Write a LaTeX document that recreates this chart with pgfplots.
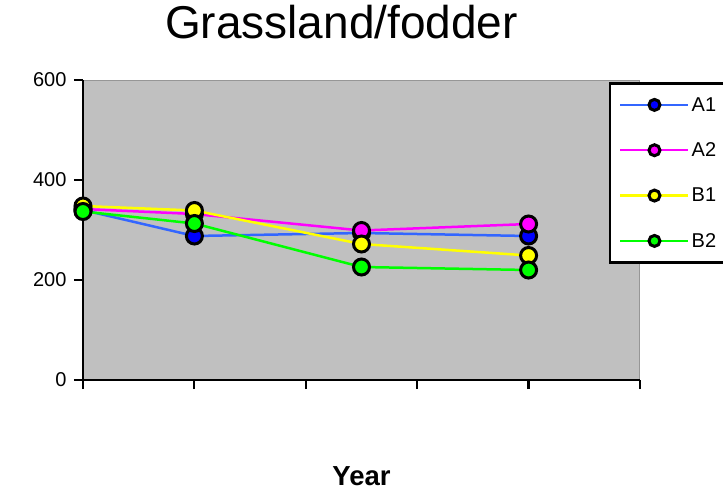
\documentclass[border=0pt]{standalone}
\usepackage{fontspec}
\setmainfont{Liberation Sans}
\usepackage{pgfplots}
\pgfplotsset{compat=1.18}

\definecolor{plotgray}{RGB}{192,192,192}
\definecolor{edgegray}{RGB}{150,150,150}
\definecolor{aoneline}{RGB}{51,102,255}
\definecolor{aonefill}{RGB}{0,0,255}
\definecolor{atwo}{RGB}{255,0,255}
\definecolor{bone}{RGB}{255,255,0}
\definecolor{btwo}{RGB}{0,255,0}

\begin{document}
\begin{tikzpicture}
\useasboundingbox (-83bp,-111bp) rectangle (640bp,380bp);
\begin{axis}[
  at={(0,0)}, anchor=south west,
  scale only axis,
  width=557bp, height=300bp,
  xmin=0, xmax=5, ymin=0, ymax=600,
  xtick={0,1,2,3,4,5}, xticklabels={},
  ytick={0,200,400,600},
  axis x line*=bottom, axis y line*=left,
  axis line style={black, line width=2.2bp, -},
  axis background/.style={fill=plotgray, draw=edgegray, line width=1bp},
  tick align=outside,
  major tick length=9bp,
  tick style={black, line width=2.2bp},
  /pgf/number format/assume math mode=true,
  tick label style={font=\fontsize{20bp}{24bp}\selectfont},
  yticklabel style={xshift=-4bp},
  clip=false,
  title={Grassland/fodder},
  title style={at={(axis description cs:0.464,1)}, anchor=base, yshift=36bp,
    inner sep=0bp, font=\fontsize{46bp}{50bp}\selectfont},
  xlabel={Year},
  xlabel style={at={(axis description cs:0.5,0)}, anchor=base, yshift=-105bp,
    inner sep=0bp, font=\fontsize{27.5bp}{30bp}\selectfont\bfseries},
  legend style={at={(0.9443,0.9933)}, anchor=north west,
    draw=black, line width=2.5bp, fill=white,
    font=\fontsize{20bp}{24bp}\selectfont,
    inner xsep=9bp, inner ysep=12bp, row sep=26bp,
    legend cell align=left},
  legend image code/.code={
    \draw[#1, line width=2.5bp] (0bp,0bp) -- (68bp,0bp);
    \draw[#1, line width=2.2bp, mark size=5.5bp] plot coordinates {(34bp,0bp)};
  },
]
\addplot[color=aoneline, line width=2.5bp, mark=*, mark size=8bp,
  mark options={draw=black, fill=aonefill, line width=3bp}]
  coordinates {(0,340) (1,288) (2.5,294) (4,288)};
\addlegendentry{A1}
\addplot[color=atwo, line width=2.5bp, mark=*, mark size=8bp,
  mark options={draw=black, fill=atwo, line width=3bp}]
  coordinates {(0,342) (1,332) (2.5,299) (4,312)};
\addlegendentry{A2}
\addplot[color=bone, line width=2.5bp, mark=*, mark size=8bp,
  mark options={draw=black, fill=bone, line width=3bp}]
  coordinates {(0,348) (1,339) (2.5,272) (4,249)};
\addlegendentry{B1}
\addplot[color=btwo, line width=2.5bp, mark=*, mark size=8bp,
  mark options={draw=black, fill=btwo, line width=3bp}]
  coordinates {(0,337) (1,313) (2.5,226) (4,220)};
\addlegendentry{B2}
\end{axis}
\end{tikzpicture}
\end{document}
